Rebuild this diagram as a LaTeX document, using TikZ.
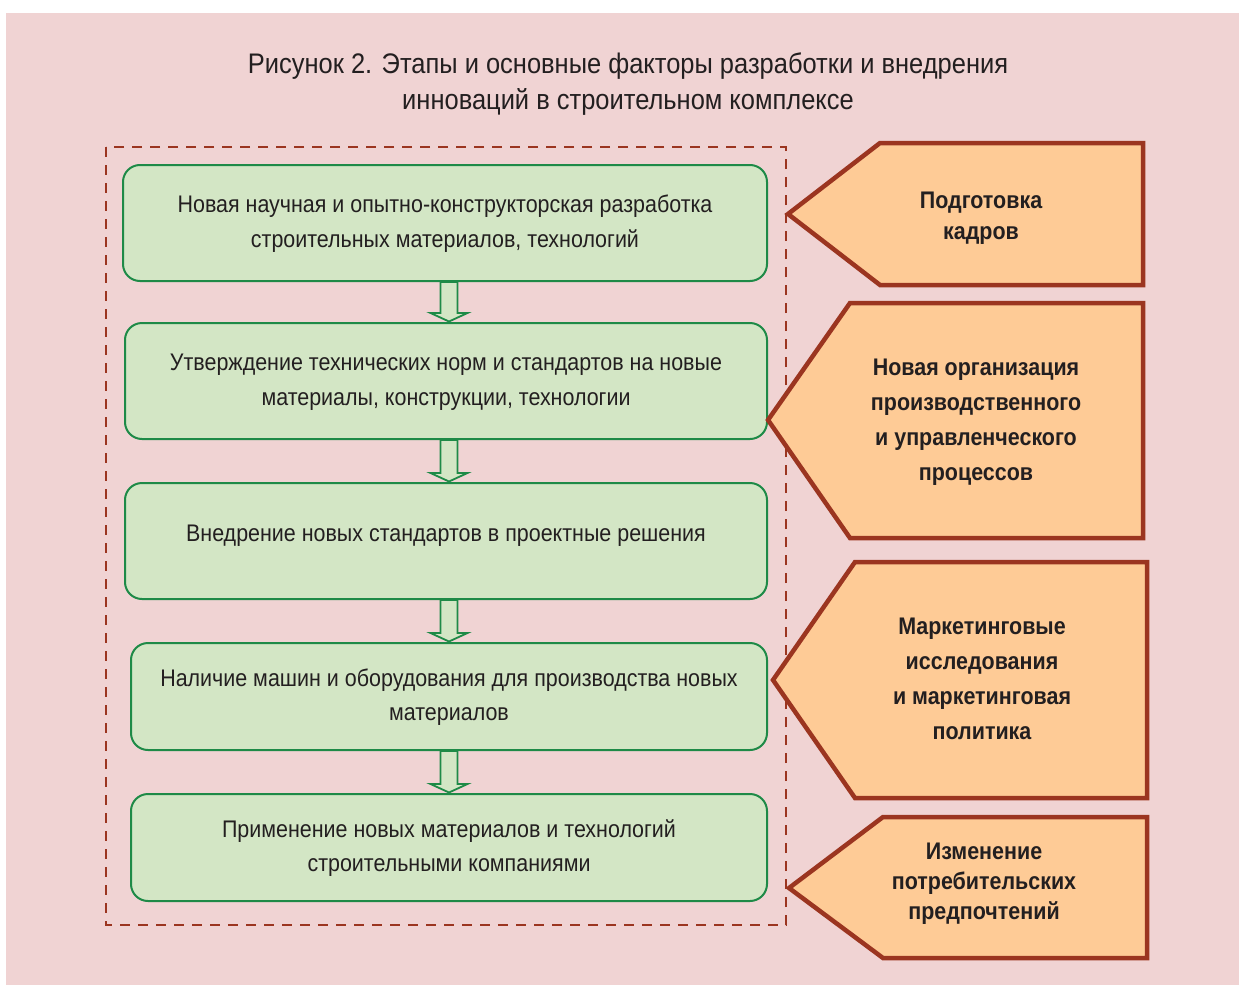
\documentclass[tikz,border=0pt]{standalone}
\usepackage{fontspec}
\setmainfont{Liberation Sans}[FakeStretch=0.894]
\newfontfamily\titlefont{Liberation Sans}[FakeStretch=0.9]
\usetikzlibrary{calc}
\definecolor{bg}{HTML}{F0D3D3}
\definecolor{boxfill}{HTML}{D3E6C5}
\definecolor{boxline}{HTML}{1E8A47}
\definecolor{redline}{HTML}{9B3520}
\definecolor{pentfill}{HTML}{FECB96}
\definecolor{txt}{HTML}{231F20}
\begin{document}
\begin{tikzpicture}[x=1pt,y=-1pt,
  stage/.style={draw=boxline, fill=boxfill, line width=2pt, rounded corners=17pt,
    align=center, inner sep=0pt, text=txt, font=\fontsize{24}{34.5}\selectfont},
  pent/.style={draw=redline, fill=pentfill, line width=4.5pt, line join=miter},
  ptext/.style={align=center, inner sep=0pt, text=txt, font=\fontsize{24}{35}\selectfont\bfseries},
  titletext/.style={align=center, inner sep=0pt, text=txt, font=\titlefont\fontsize{28.3}{36}\selectfont},
  frame/.style={draw=redline, line width=2.5pt, dash pattern=on 10pt off 8pt},
  barrow/.style={draw=boxline, fill=boxfill, line width=1.8pt, line join=miter}
]
\useasboundingbox (0,0) rectangle (1239,985);
\fill[white] (0,0) rectangle (1239,985);
\fill[bg] (6,13) rectangle (1239,985);

\node[titletext] (title) at (628,84) {Рисунок 2. Этапы и основные факторы разработки и внедрения\\инноваций в строительном комплексе};

\draw[frame] (106,147) rectangle (786,925);

\node[stage, minimum width=644pt, minimum height=116pt] (b1) at (445,223)
  {\raisebox{-1pt}{\begin{tabular}{@{}c@{}}Новая научная и опытно-конструкторская разработка\\строительных материалов, технологий\end{tabular}}};
\node[stage, minimum width=642pt, minimum height=116pt] (b2) at (446,381)
  {\raisebox{-1pt}{\begin{tabular}{@{}c@{}}Утверждение технических норм и стандартов на новые\\материалы, конструкции, технологии\end{tabular}}};
\node[stage, minimum width=642pt, minimum height=116pt] (b3) at (446,541)
  {\raisebox{5pt}[\height][\depth]{Внедрение новых стандартов в проектные решения}};
\node[stage, minimum width=636pt, minimum height=107pt] (b4) at (449,696.5)
  {\raisebox{-1pt}{\begin{tabular}{@{}c@{}}Наличие машин и оборудования для производства новых\\материалов\end{tabular}}};
\node[stage, minimum width=636pt, minimum height=107pt] (b5) at (449,847.5)
  {\raisebox{-1pt}{\begin{tabular}{@{}c@{}}Применение новых материалов и технологий\\строительными компаниями\end{tabular}}};

\foreach \a/\b in {b1/b2, b2/b3, b3/b4, b4/b5}{
  \draw[barrow] let \p1=(\a.south), \p2=(\b.north) in
    (440.5pt,\y1) -- (440.5pt,\y2+9pt) -- (430.5pt,\y2+9pt) -- (449pt,\y2+0.5pt)
    -- (467.5pt,\y2+9pt) -- (457.5pt,\y2+9pt) -- (457.5pt,\y1) -- cycle;
}

\draw[pent] (880,143) -- (1143,143) -- (1143,285) -- (880,285) -- (788,214) -- cycle;
\node[ptext, font=\fontsize{24}{31}\selectfont\bfseries] (f1) at (981,218) {Подготовка\\кадров};

\draw[pent] (850,303) -- (1143,303) -- (1143,538) -- (850,538) -- (768,420) -- cycle;
\node[ptext] (f2) at (976,422.5) {Новая организация\\производственного\\и управленческого\\процессов};

\draw[pent] (855,562) -- (1147,562) -- (1147,798) -- (855,798) -- (773,680) -- cycle;
\node[ptext] (f3) at (982,679) {Маркетинговые\\исследования\\и маркетинговая\\политика};

\draw[pent] (883,817) -- (1147,817) -- (1147,958) -- (883,958) -- (789,888) -- cycle;
\node[ptext, font=\fontsize{24}{30}\selectfont\bfseries] (f4) at (984,884) {Изменение\\потребительских\\предпочтений};
\end{tikzpicture}
\end{document}
